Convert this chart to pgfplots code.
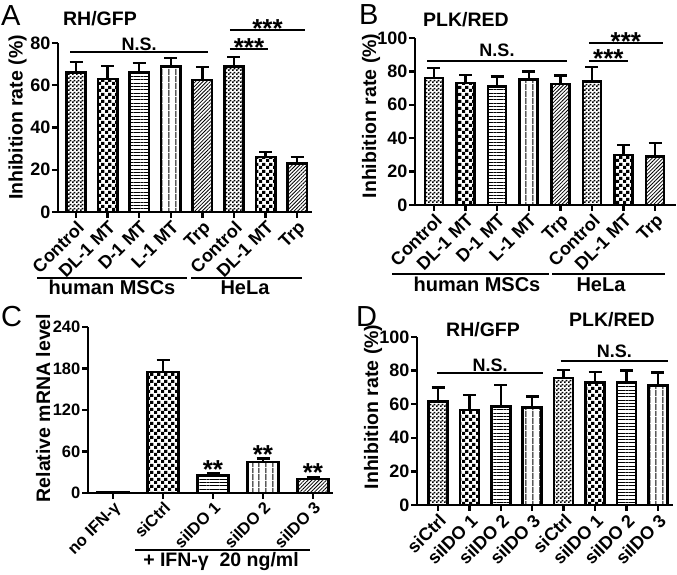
\documentclass[border=0pt]{standalone}
\usepackage{fontspec}
\setmainfont{Liberation Sans}
\usepackage{pgfplots}
\pgfplotsset{compat=1.18}
\usetikzlibrary{patterns,patterns.meta}

\newcommand\fs{\fontsize{18}{21}\selectfont\bfseries}
\newcommand\fc{\fontsize{16.5}{19}\selectfont\bfseries}
\newcommand\fl{\fontsize{19.5}{22}\selectfont\bfseries}
\newcommand\fg{\fontsize{20}{23}\selectfont\bfseries}
\newcommand\st{\fontsize{26}{26}\selectfont\bfseries}
\newcommand\pl{\fontsize{29}{30}\selectfont}

% fine and coarse checker fills
\pgfdeclarepattern{name=finechk, type=uncolored,
  bottom left={\pgfpointorigin}, top right={\pgfpoint{4pt}{4pt}},
  tile size={\pgfpoint{4pt}{4pt}},
  code={\pgfpathrectangle{\pgfpointorigin}{\pgfpoint{2pt}{2pt}}
        \pgfpathrectangle{\pgfpoint{2pt}{2pt}}{\pgfpoint{2pt}{2pt}}
        \pgfusepath{fill}}}
\pgfdeclarepattern{name=bigchk, type=uncolored,
  bottom left={\pgfpointorigin}, top right={\pgfpoint{7pt}{7pt}},
  tile size={\pgfpoint{7pt}{7pt}},
  code={\pgfpathrectangle{\pgfpointorigin}{\pgfpoint{3.5pt}{3.5pt}}
        \pgfpathrectangle{\pgfpoint{3.5pt}{3.5pt}}{\pgfpoint{3.5pt}{3.5pt}}
        \pgfusepath{fill}}}

\tikzset{
  pF/.style={pattern=finechk},
  pC/.style={pattern=bigchk},
  pH/.style={pattern={Lines[angle=0,distance=3.3pt,line width=1pt]}},
  pV/.style={pattern={Lines[angle=90,distance=6.5pt,line width=1pt]}},
  pD/.style={pattern={Lines[angle=45,distance=2.6pt,line width=0.8pt]}},
}

% one bar: style, x, mean, sd
\newcommand\bbar[4]{\addplot[ybar, bar shift=0pt, draw=black, line width=2.6pt, #1,
  error bars/.cd, y dir=plus, y explicit,
  error bar style={line width=2.4pt, black},
  error mark options={rotate=90, line width=2.4pt, mark size=6.5pt, black}]
  coordinates {(#2,#3) +- (0,#4)};}

\pgfplotsset{panel/.style={
  scale only axis, ymin=0, clip=false, anchor=south west,
  axis x line*=bottom, axis y line*=left,
  axis line style={line width=2.4pt},
  tick align=outside, major tick length=6pt,
  tick style={line width=2.4pt, black},
  tick label style={font=\fs},
  /pgf/number format/assume math mode=true,
  x tick label style={rotate=45, anchor=north east, inner sep=1pt},
  y tick label style={inner sep=1.5pt},
}}

\begin{document}
\begin{tikzpicture}
\path[use as bounding box] (0pt,0pt) rectangle (677pt,575pt);

% ---- A
\begin{axis}[panel, at={(58pt,363pt)}, width=254pt, height=169pt,
  xmin=-0.57, xmax=7.47, ymax=80, ytick={0,20,40,60,80}, bar width=19.5pt,
  xtick={0,...,7},
  xticklabels={Control,DL-1 MT,D-1 MT,L-1 MT,Trp,Control,DL-1 MT,Trp}]
\bbar{pF}{0}{66}{5}
\bbar{pC}{1}{63}{6}
\bbar{pH}{2}{66}{4.5}
\bbar{pV}{3}{69}{4}
\bbar{pD}{4}{62.5}{6}
\bbar{pF}{5}{69}{4.5}
\bbar{pC}{6}{26}{2.5}
\bbar{pD}{7}{23}{3}
\draw[line width=1.8pt] (axis cs:-0.19,75.7) -- (axis cs:4.18,75.7)
  node[midway, above, inner sep=0.5pt, font=\fs] {N.S.};
\draw[line width=1.8pt] (axis cs:4.87,77) -- (axis cs:6.08,77)
  node[midway, anchor=base, yshift=-7pt, inner sep=0pt, font=\st] {***};
\draw[line width=1.8pt] (axis cs:4.87,86) -- (axis cs:7.25,86)
  node[midway, anchor=base, yshift=-7pt, inner sep=0pt, font=\st] {***};
\end{axis}

% ---- B
\begin{axis}[panel, at={(415pt,370pt)}, width=261pt, height=167pt,
  xmin=-0.6, xmax=7.66, ymax=100, ytick={0,20,...,100}, bar width=18pt,
  xtick={0,...,7},
  xticklabels={Control,DL-1 MT,D-1 MT,L-1 MT,Trp,Control,DL-1 MT,Trp}]
\bbar{pF}{0}{76}{6}
\bbar{pC}{1}{73}{5}
\bbar{pH}{2}{71}{6}
\bbar{pV}{3}{75}{5}
\bbar{pD}{4}{72.5}{5}
\bbar{pF}{5}{74}{8.5}
\bbar{pC}{6}{30}{6}
\bbar{pD}{7}{29}{8}
\draw[line width=1.8pt] (axis cs:-0.22,86) -- (axis cs:4.21,86)
  node[midway, above, inner sep=0.5pt, yshift=3pt, font=\fs] {N.S.};
\draw[line width=1.8pt] (axis cs:4.9,86) -- (axis cs:6.14,86)
  node[midway, anchor=base, yshift=-6pt, inner sep=0pt, font=\st] {***};
\draw[line width=1.8pt] (axis cs:4.9,97) -- (axis cs:7.25,97)
  node[midway, anchor=base, yshift=-7pt, inner sep=0pt, font=\st] {***};
\end{axis}

% ---- C
\begin{axis}[panel, at={(88pt,82pt)}, width=245pt, height=166pt,
  xmin=-0.5, xmax=4.4, ymax=240, ytick={0,60,...,240}, bar width=31pt,
  tick label style={font=\fc},
  xtick={0,...,4},
  xticklabels={no IFN-γ,siCtrl,siIDO 1,siIDO 2,siIDO 3}]
\addplot[ybar, bar shift=0pt, draw=black, line width=2.6pt, fill=white]
  coordinates {(0,1)};
\bbar{pC}{1}{175}{17}
\bbar{pH}{2}{25}{3.5}
\bbar{pV}{3}{45}{5}
\bbar{pD}{4}{20}{2.7}
\node[anchor=base, yshift=-15pt, inner sep=0pt, font=\st] at (axis cs:2,43) {**};
\node[anchor=base, yshift=-15pt, inner sep=0pt, font=\st] at (axis cs:3,65) {**};
\node[anchor=base, yshift=-15pt, inner sep=0pt, font=\st] at (axis cs:4,38) {**};
\end{axis}

% ---- D
\begin{axis}[panel, at={(417pt,70pt)}, width=256pt, height=168pt,
  xmin=-0.67, xmax=7.48, ymax=100, ytick={0,20,...,100}, bar width=19pt,
  xtick={0,...,7},
  xticklabels={siCtrl,siIDO 1,siIDO 2,siIDO 3,siCtrl,siIDO 1,siIDO 2,siIDO 3}]
\bbar{pF}{0}{61.5}{8.5}
\bbar{pC}{1}{56.5}{9}
\bbar{pH}{2}{58.5}{13}
\bbar{pV}{3}{58}{6.5}
\bbar{pF}{4}{75.6}{4.8}
\bbar{pC}{5}{72.8}{6.2}
\bbar{pH}{6}{72.8}{7.2}
\bbar{pV}{7}{71}{7.8}
\draw[line width=1.8pt] (axis cs:-0.03,78.5) -- (axis cs:3.34,78.5)
  node[midway, above, inner sep=0.5pt, font=\fs] {N.S.};
\draw[line width=1.8pt] (axis cs:3.9,85.5) -- (axis cs:7.32,85.5)
  node[midway, above, inner sep=0.5pt, yshift=2pt, font=\fs] {N.S.};
\end{axis}

\begin{scope}[x=1pt, y=1pt, font=\fg]
% panel letters
\node[anchor=base west, inner sep=0pt, font=\pl] at (1,549) {A};
\node[anchor=base west, inner sep=0pt, font=\pl] at (359,550) {B};
\node[anchor=base west, inner sep=0pt, font=\pl] at (1,248) {C};
\node[anchor=base west, inner sep=0pt, font=\pl] at (356,248) {D};
% titles
\node[anchor=base, inner sep=0pt, font=\fl] at (100,549) {RH/GFP};
\node[anchor=base, inner sep=0pt, font=\fl] at (466,548) {PLK/RED};
\node[anchor=base, inner sep=0pt, font=\fl] at (483,238) {RH/GFP};
\node[anchor=base, inner sep=0pt, font=\fl] at (612,248) {PLK/RED};
% y labels
\node[anchor=base, rotate=90, inner sep=0pt, font=\fl] at (22.7,457.5) {Inhibition rate (\%)};
\node[anchor=base, rotate=90, inner sep=0pt, font=\fl] at (376,459) {Inhibition rate (\%)};
\node[anchor=base, rotate=90, inner sep=0pt, font=\fl] at (50,167) {Relative mRNA level};
\node[anchor=base, rotate=90, inner sep=0pt, font=\fl] at (378,168) {Inhibition rate (\%)};
% group brackets
\draw[line width=1.8pt] (37,297) -- (187,297);
\draw[line width=1.8pt] (191,297) -- (302,297);
\node[anchor=base, inner sep=0pt] at (112,280) {human MSCs};
\node[anchor=base, inner sep=0pt] at (245,280) {HeLa};
\draw[line width=1.8pt] (392,301) -- (549,301);
\draw[line width=1.8pt] (552,301) -- (665,301);
\node[anchor=base, inner sep=0pt] at (477,283) {human MSCs};
\node[anchor=base, inner sep=0pt] at (601,283) {HeLa};
\draw[line width=1.8pt] (135,25) -- (310,25);
\node[anchor=base, inner sep=0pt, font=\fl] at (221,8) {+ IFN-γ\ \ 20 ng/ml};
\end{scope}
\end{tikzpicture}
\end{document}
